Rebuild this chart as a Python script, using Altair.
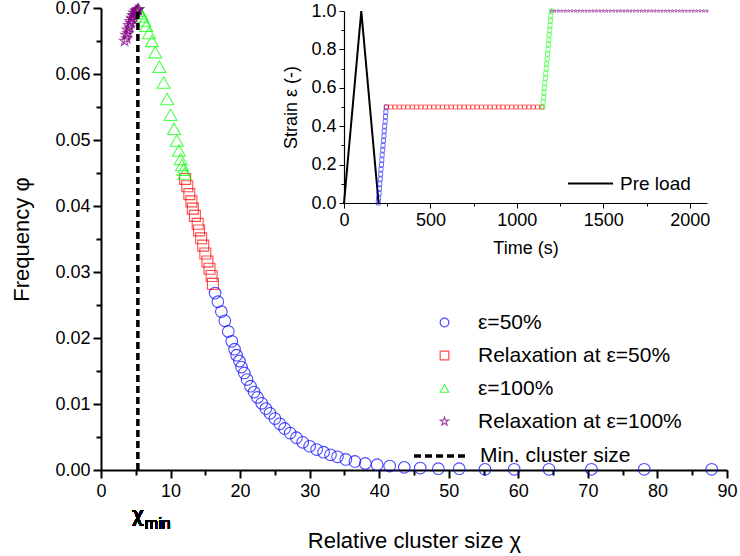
import altair as alt
import pandas as pd

FONT = "Liberation Sans"

# ---------------- main plot data ----------------
blue_chi = [16.4, 16.8, 17.3, 17.8, 18.3, 18.8, 19.2, 19.5, 19.9, 20.2, 20.6, 21.0, 21.5, 22.0, 22.5,
            23.1, 23.7, 24.3, 25.0, 25.7, 26.4, 27.2, 28.1, 29.0, 30.0, 31.0, 32.0, 33.0, 34.0, 35.2,
            36.5, 38.0, 39.7, 41.5, 43.6, 45.9, 48.5, 51.5, 55.2, 59.4, 64.4, 70.5, 78.1, 87.8]
blue_phi = [0.0268, 0.0255, 0.0240, 0.0226, 0.0210, 0.0195, 0.0183, 0.0174, 0.0165, 0.0156, 0.0147,
            0.0137, 0.0127, 0.0118, 0.0110, 0.0101, 0.0093, 0.0086, 0.0078, 0.0070, 0.0063, 0.0056,
            0.0049, 0.0042, 0.0036, 0.0031, 0.0027, 0.0023, 0.0020, 0.0016, 0.0013, 0.0010, 0.0008,
            0.0006, 0.0004, 0.0003, 0.0002, 0.0002, 0.0001, 0.0001, 0.0001, 0.0001, 0.0001, 0.0001]

red_chi = [12.1, 12.4, 12.7, 13.0, 13.2, 13.5, 13.9, 14.1, 14.4, 14.7, 15.0, 15.3, 15.6, 15.9, 16.1]
red_phi = [0.0441, 0.0430, 0.0418, 0.0407, 0.0396, 0.0385, 0.0373, 0.0363, 0.0351, 0.0340, 0.0328,
           0.0316, 0.0305, 0.0294, 0.0282]

green_chi = [5.5, 5.7, 5.9, 6.2, 6.5, 6.9, 7.3, 7.8, 8.4, 9.0, 9.5, 10.0, 10.5, 10.9, 11.2, 11.45,
             11.65, 11.85, 12.0]
green_phi = [0.0696, 0.0692, 0.0687, 0.0681, 0.0673, 0.0662, 0.0650, 0.0633, 0.0611, 0.0587, 0.0562,
             0.0538, 0.0517, 0.0499, 0.0484, 0.0471, 0.0462, 0.0455, 0.0449]

purple_chi = [3.4, 3.6, 3.8, 4.0, 4.2, 4.4, 4.6, 4.8, 5.0, 5.2, 5.4,
              3.7, 3.9, 4.1, 4.3, 4.5, 4.7, 4.9, 5.1, 5.3]
purple_phi = [0.0650, 0.0659, 0.0667, 0.0674, 0.0680, 0.0685, 0.0689, 0.0693, 0.0696, 0.0697, 0.0698,
              0.0654, 0.0662, 0.0670, 0.0677, 0.0683, 0.0688, 0.0692, 0.0695, 0.0697]

chi_min = 5.3
phi_max = 0.07

series_names = ["ε=50%", "Relaxation at ε=50%", "ε=100%", "Relaxation at ε=100%"]
series_colors = ["#0000FF", "#FF0000", "#00FF00", "#800080"]
series_sizes = [135, 120, 170, 120]
STAR = ("M0,-1L0.235,-0.324L0.951,-0.309L0.38,0.124L0.588,0.809L0,0.4L-0.588,0.809"
        "L-0.38,0.124L-0.951,-0.309L-0.235,-0.324Z")
series_shapes = ["circle", "square", "triangle-up", STAR]

x_ticks = [0, 10, 20, 30, 40, 50, 60, 70, 80, 90]
x_minor = [5, 15, 25, 35, 45, 55, 65, 75, 85]
y_ticks = [0.0, 0.01, 0.02, 0.03, 0.04, 0.05, 0.06, 0.07]
y_minor = [0.005, 0.015, 0.025, 0.035, 0.045, 0.055, 0.065]

# ---------------- inset data ----------------
preload_t = [0, 100, 200]
preload_s = [0.0, 1.0, 0.0]

inset_blue_t = [198, 200, 203, 205, 207, 210, 212, 214, 217, 219, 221, 224, 226, 228, 231, 233, 235,
                238, 240, 242, 245]
inset_blue_s = [0.0, 0.025, 0.05, 0.075, 0.1, 0.125, 0.15, 0.175, 0.2, 0.225, 0.25, 0.275, 0.3,
                0.325, 0.35, 0.375, 0.4, 0.425, 0.45, 0.475, 0.5]
inset_red_t = [245, 270, 295, 320, 345, 370, 395, 420, 445, 470, 495, 520, 545, 570, 595, 620, 645,
               670, 695, 720, 745, 770, 795, 820, 845, 870, 895, 920, 945, 970, 995, 1020, 1045,
               1070, 1095, 1120, 1145]
inset_red_level = 0.5
inset_green_t = [1150, 1152, 1155, 1157, 1160, 1162, 1165, 1167, 1170, 1172, 1175, 1177, 1180, 1182,
                 1185, 1187, 1190, 1192, 1195, 1197, 1200]
inset_green_s = [0.5, 0.525, 0.55, 0.575, 0.6, 0.625, 0.65, 0.675, 0.7, 0.725, 0.75, 0.775, 0.8,
                 0.825, 0.85, 0.875, 0.9, 0.925, 0.95, 0.975, 1.0]
inset_purple_t = [1200, 1220, 1240, 1260, 1280, 1300, 1320, 1340, 1360, 1380, 1400, 1420, 1440, 1460,
                  1480, 1500, 1520, 1540, 1560, 1580, 1600, 1620, 1640, 1660, 1680, 1700, 1720, 1740,
                  1760, 1780, 1800, 1820, 1840, 1860, 1880, 1900, 1920, 1940, 1960, 1980, 2000, 2020,
                  2040, 2060, 2080, 2100]
inset_purple_level = 1.0

t_ticks = [0, 500, 1000, 1500, 2000]
t_minor = [250, 750, 1250, 1750]
s_ticks = [0.0, 0.2, 0.4, 0.6, 0.8, 1.0]
s_minor = [0.1, 0.3, 0.5, 0.7, 0.9]

# ---------------- layout ----------------
W, H = 626, 462
INSET_X0, INSET_X1 = 243, 606
INSET_Y0, INSET_Y1 = 195, 3

# ---------------- data frames ----------------
groups = [(blue_chi, blue_phi), (red_chi, red_phi), (green_chi, green_phi), (purple_chi, purple_phi)]
rows = []
for (cx, py), name, msz in zip(groups, series_names, series_sizes):
    for c, p in zip(cx, py):
        rows.append({"chi": c, "phi": p, "series": name, "msize": msz})
main_df = pd.DataFrame(rows)

rule_df = pd.DataFrame({"chi": [chi_min], "y0": [0.0], "y1": [phi_max], "label": ["Min. cluster size"]})
pre_df = pd.DataFrame({"t": preload_t, "s": preload_s, "label": ["Pre load"] * len(preload_t)})
ib_df = pd.DataFrame({"t": inset_blue_t, "s": inset_blue_s})
ir_df = pd.DataFrame({"t": inset_red_t, "s": [inset_red_level] * len(inset_red_t)})
ig_df = pd.DataFrame({"t": inset_green_t, "s": inset_green_s})
ip_df = pd.DataFrame({"t": inset_purple_t, "s": [inset_purple_level] * len(inset_purple_t)})

# ---------------- main plot ----------------
x_main_scale = alt.Scale(domain=[0, 90], nice=False, zero=False)
y_main_scale = alt.Scale(domain=[0, 0.07], nice=False, zero=False)

ax_common = dict(grid=False, domainColor="black", tickColor="black", labelColor="black",
                 titleColor="black", labelFont=FONT, titleFont=FONT, titleFontWeight="normal")

x_main_axis = alt.Axis(orient="bottom", values=x_ticks, title="Relative cluster size χ", tickSize=8,
                       tickWidth=2, domainWidth=2, labelFontSize=18, titleFontSize=22,
                       labelPadding=4, titlePadding=30, labelFlush=False, **ax_common)
y_main_axis = alt.Axis(orient="left", values=y_ticks, format=".2f", title="Frequency φ", tickSize=8,
                       tickWidth=2, domainWidth=2, labelFontSize=18, titleFontSize=22,
                       labelPadding=3, titlePadding=21, **ax_common)

sym_legend = alt.Legend(title=None, orient="none", legendX=333, legendY=304, labelFont=FONT,
                        labelFontSize=21, labelColor="black", symbolSize=75, symbolStrokeWidth=1.2,
                        labelOffset=23, rowPadding=11, padding=0, labelLimit=0)

points = alt.Chart(main_df).mark_point(filled=False, strokeWidth=1.1).encode(
    x=alt.X("chi:Q", scale=x_main_scale, axis=x_main_axis),
    y=alt.Y("phi:Q", scale=y_main_scale, axis=y_main_axis),
    color=alt.Color("series:N", scale=alt.Scale(domain=series_names, range=series_colors),
                    legend=sym_legend),
    shape=alt.Shape("series:N", scale=alt.Scale(domain=series_names, range=series_shapes),
                    legend=sym_legend),
    size=alt.Size("msize:Q", scale=None),
)

chi_label = alt.Chart(main_df).mark_text(text="χ", font="DejaVu Sans", fontSize=21,
                                         fontWeight="normal", align="center", baseline="alphabetic",
                                         dy=52, color="black").encode(
    x=alt.datum(chi_min), y=alt.datum(0)
)
min_label = alt.Chart(main_df).mark_text(text="min", font=FONT, fontSize=16, fontWeight="normal",
                                         align="left", baseline="alphabetic", dx=7, dy=59,
                                         color="black").encode(
    x=alt.datum(chi_min), y=alt.datum(0)
)

main_layer = alt.layer(points, chi_label, min_label)

# minor ticks + min cluster rule (same domains, own axes)
x_minor_axis = alt.Axis(orient="bottom", values=x_minor, labels=False, domain=False, tickSize=5,
                        tickWidth=2, tickColor="black", grid=False, title=None)
y_minor_axis = alt.Axis(orient="left", values=y_minor, labels=False, domain=False, tickSize=5,
                        tickWidth=2, tickColor="black", grid=False, title=None)
rule = alt.Chart(rule_df).mark_rule(strokeWidth=3.5, color="black").encode(
    x=alt.X("chi:Q", scale=x_main_scale, axis=x_minor_axis),
    y=alt.Y("y0:Q", scale=y_main_scale, axis=y_minor_axis),
    y2="y1:Q",
    strokeDash=alt.StrokeDash("label:N", scale=alt.Scale(domain=["Min. cluster size"], range=[[7, 4]]),
                              legend=alt.Legend(title=None, orient="none", legendX=311, legendY=420,
                                                symbolType="stroke", symbolSize=2704,
                                                symbolStrokeWidth=3.5, symbolStrokeColor="black",
                                                labelFont=FONT, labelFontSize=21, labelColor="black",
                                                labelOffset=12, padding=0, labelLimit=0)),
)

# ---------------- inset ----------------
t_scale = alt.Scale(domain=[0, 2100], range=[INSET_X0, INSET_X1], nice=False, zero=False)
s_scale = alt.Scale(domain=[0, 1], range=[INSET_Y0, INSET_Y1], nice=False, zero=False)

t_axis = alt.Axis(orient="bottom", offset=-(H - INSET_Y0), values=t_ticks, format="d", title="Time (s)",
                  tickSize=5, tickWidth=1, domainWidth=1.2, labelFontSize=18, titleFontSize=18,
                  labelPadding=3, titlePadding=10, labelFlush=False, **ax_common)
s_axis = alt.Axis(orient="left", offset=-INSET_X0, values=s_ticks, format=".1f", title="Strain ε (-)",
                  tickSize=5, tickWidth=1, domainWidth=1.2, labelFontSize=18, titleFontSize=18,
                  labelPadding=3, titlePadding=10, **ax_common)

pre = alt.Chart(pre_df).mark_line(color="black", strokeWidth=2).encode(
    x=alt.X("t:Q", scale=t_scale, axis=t_axis),
    y=alt.Y("s:Q", scale=s_scale, axis=s_axis),
    strokeDash=alt.StrokeDash("label:N", scale=alt.Scale(domain=["Pre load"], range=[[1, 0]]),
                              legend=alt.Legend(title=None, orient="none", legendX=466, legendY=152,
                                                symbolType="stroke", symbolSize=2025,
                                                symbolStrokeWidth=2, symbolStrokeColor="black",
                                                labelFont=FONT, labelFontSize=19, labelColor="black",
                                                labelOffset=6, padding=0, labelLimit=0)),
)


def inset_pts(df, color, shape, size):
    return alt.Chart(df).mark_point(filled=False, shape=shape, size=size, strokeWidth=0.8,
                                    color=color).encode(
        x=alt.X("t:Q", scale=t_scale), y=alt.Y("s:Q", scale=s_scale))


inset_layer = alt.layer(
    pre,
    inset_pts(ib_df, "#0000FF", "square", 16),
    inset_pts(ir_df, "#FF0000", "square", 16),
    inset_pts(ig_df, "#00FF00", "square", 16),
    inset_pts(ip_df, "#800080", STAR, 10),
)

# inset minor ticks
inset_minor = alt.Chart(pd.DataFrame({"t": [0], "s": [0]})).mark_point(opacity=0).encode(
    x=alt.X("t:Q", scale=t_scale,
            axis=alt.Axis(orient="bottom", offset=-(H - INSET_Y0), values=t_minor, labels=False,
                          domain=False, tickSize=3, tickWidth=1, tickColor="black", grid=False,
                          title=None)),
    y=alt.Y("s:Q", scale=s_scale,
            axis=alt.Axis(orient="left", offset=-INSET_X0, values=s_minor, labels=False,
                          domain=False, tickSize=3, tickWidth=1, tickColor="black", grid=False,
                          title=None)),
)

chart = alt.layer(main_layer, rule, inset_layer, inset_minor).resolve_scale(
    x="independent", y="independent", strokeDash="independent"
).resolve_legend(strokeDash="independent").properties(
    width=W, height=H,
    padding={"left": 101, "top": 8, "right": 13, "bottom": 86},
    autosize=alt.AutoSizeParams(type="none"),
    background="white",
).configure_view(stroke=None)

chart.save("out.html", embed_options={"renderer": "svg", "actions": False})
